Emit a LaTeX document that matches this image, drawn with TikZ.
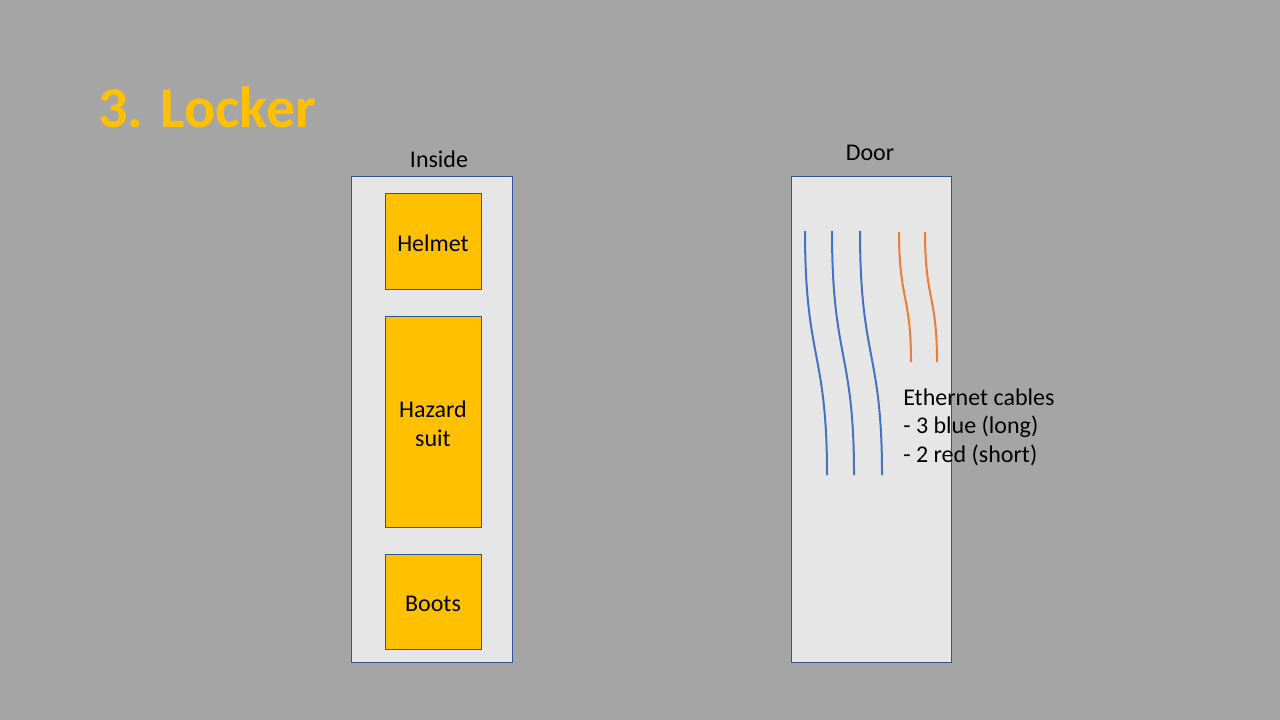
\documentclass[tikz,border=0pt]{standalone}
\usepackage{fontspec}
\setmainfont{Carlito}
\definecolor{bg}{HTML}{A5A5A5}
\definecolor{boxfill}{HTML}{E7E6E6}
\definecolor{boxline}{HTML}{2F5597}
\definecolor{gold}{HTML}{FFC000}
\definecolor{cblue}{HTML}{4472C4}
\definecolor{corange}{HTML}{ED7D31}
\tikzset{
  panel/.style={draw=boxline, fill=boxfill, line width=0.75pt},
  item/.style={draw=boxline, fill=gold, line width=0.75pt, font=\fontsize{18}{22}\selectfont, align=center, text depth=0pt},
  lbl/.style={font=\fontsize{18}{22}\selectfont, inner sep=0pt},
  itemtext/.style={font=\fontsize{18}{22}\selectfont, align=center, inner sep=0pt},
  bluecable/.style={draw=cblue, line width=1.5pt},
  orangecable/.style={draw=corange, line width=1.5pt},
}
\begin{document}
\begin{tikzpicture}[x=0.75pt,y=-0.75pt]
\fill[bg] (0,0) rectangle (1280,720);
\useasboundingbox (0,0) rectangle (1280,720);
% title
\node[anchor=base west, inner sep=0pt, text=gold, font=\fontsize{43.5}{52}\selectfont\bfseries] (title) at (98,128) {3. Locker};
% inside panel
\draw[panel] (351,177) rectangle (512,662);
\node[lbl] (insidelbl) at (439,159) {Inside};
\node[item, minimum width=72pt, minimum height=71.25pt, label={[itemtext, yshift=-1.5pt]center:Helmet}] (helmet) at (433,241.5) {};
\node[item, minimum width=72pt, minimum height=158.25pt, label={[itemtext, yshift=-1.5pt]center:Hazard\\suit}] (suit) at (433,421.5) {};
\node[item, minimum width=72pt, minimum height=71.25pt, label={[itemtext, yshift=-1.5pt]center:Boots}] (boots) at (433,601.5) {};
% door panel
\draw[panel] (791,177) rectangle (951,662);
\node[lbl] (doorlbl) at (870,153) {Door};
% cables
\foreach \i/\x in {1/805,2/832,3/860}{
  \coordinate (b\i top) at (\x,231);
  \coordinate (b\i bot) at (\x+22,475);
  \draw[bluecable] (b\i top) .. controls (\x,360) and (\x+22,350) .. (b\i bot);
}
\foreach \i/\x in {1/899,2/925}{
  \coordinate (o\i top) at (\x,232);
  \coordinate (o\i bot) at (\x+12,362);
  \draw[orangecable] (o\i top) .. controls (\x,300) and (\x+12,295) .. (o\i bot);
}
\node[lbl, anchor=north west, align=left, font=\fontsize{18}{21.4}\selectfont] (cables) at (903,388.5) {Ethernet cables\\- 3 blue (long)\\- 2 red (short)};
\end{tikzpicture}
\end{document}
